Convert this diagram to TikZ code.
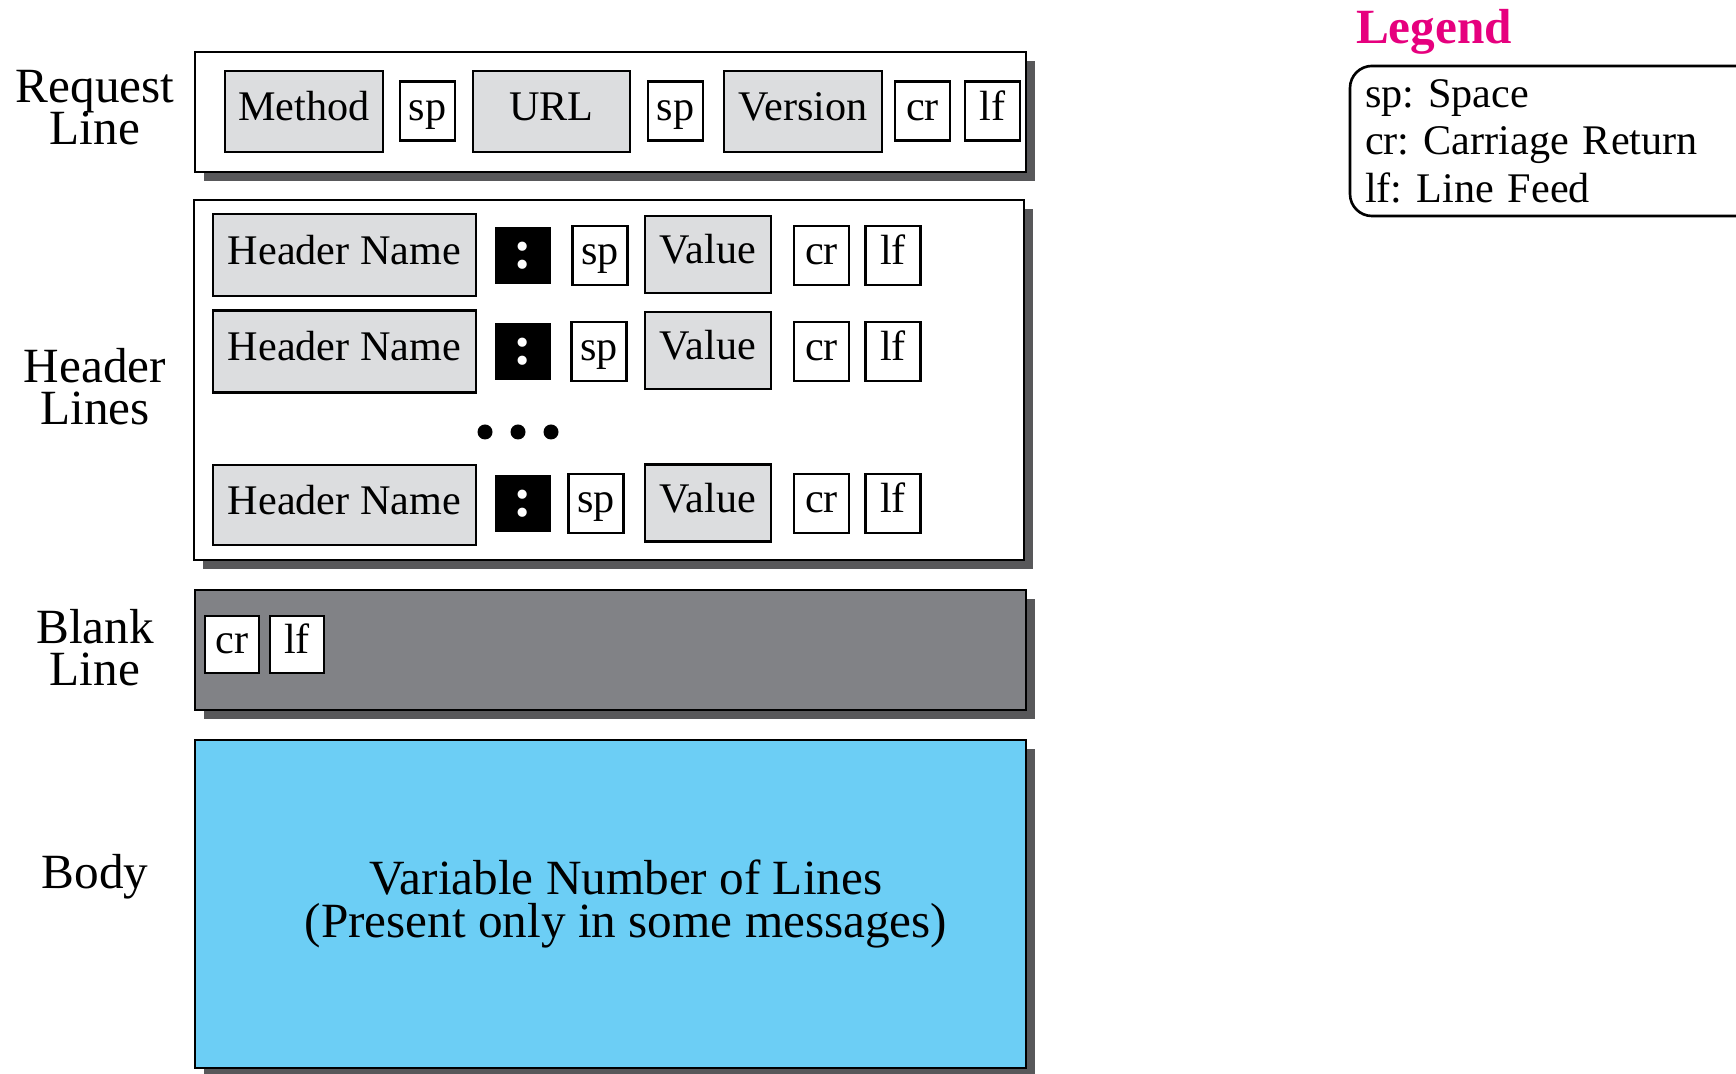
\documentclass[tikz,border=0pt]{standalone}
\usepackage{fontspec}
\setmainfont{Liberation Serif}
\usepackage{tikz}
\usetikzlibrary{shadows}
\definecolor{fieldgray}{RGB}{220,221,223}
\definecolor{blankgray}{RGB}{129,130,134}
\definecolor{shadowgray}{RGB}{88,88,90}
\definecolor{bodyblue}{RGB}{108,206,245}
\definecolor{legendpink}{RGB}{230,0,126}
\newcommand\tightlines{\lineskiplimit=-20pt\relax}
\frenchspacing

\begin{document}
\begin{tikzpicture}[x=0.01cm, y=-0.01cm,
	every node/.style={inner sep=0pt, outer sep=0pt, font=\fontsize{12}{12}\selectfont},
	part/.style={draw, line width=0.6pt, drop shadow={shadow xshift=0.09cm, shadow yshift=-0.09cm, fill=shadowgray, opacity=1}},
	field/.style={draw, line width=0.75pt, fill=fieldgray, minimum height=0.81cm, text height=0.72em, text depth=0.2em},
	ctl/.style={draw, line width=0.75pt, fill=white, minimum width=0.55cm, minimum height=0.59cm, text height=0.72em, text depth=0.2em},
	colon/.style={fill=black, text=white, minimum width=0.56cm, minimum height=0.57cm, font=\fontsize{16}{16}\selectfont\bfseries},
	lbl/.style={align=center, font=\fontsize{14}{11.9}\selectfont\tightlines},
	dot/.style={circle, fill=black, minimum size=0.15cm}]
		
		\useasboundingbox (0,0) rectangle (1736,1074);
		\clip (0,0) rectangle (1736,1074);
		
		% request line
		\node at (610.5,112) [part, fill=white, minimum width=8.31cm, minimum height=1.2cm] (reqline) {};
		\node at (304,111.5) [field, minimum width=1.58cm] (method) {Method};
		\node at (427.5,111) [ctl] (rsp1) {sp};
		\node at (551.5,111.5) [field, minimum width=1.57cm] (url) {URL};
		\node at (675.5,111) [ctl] (rsp2) {sp};
		\node at (803,111.5) [field, minimum width=1.58cm] (version) {Version};
		\node at (922.5,111) [ctl] (rcr) {cr};
		\node at (992.5,111) [ctl] (rlf) {lf};
		
		% header lines
		\node at (609,380) [part, fill=white, minimum width=8.3cm, minimum height=3.6cm] (hdrlines) {};
		
		\node at (344.5,255) [field, minimum width=2.63cm, minimum height=0.82cm] (hname1) {Header Name};
		\node at (523,255.5) [colon] (hcol1) {:};
		\node at (600,255.5) [ctl] (hsp1) {sp};
		\node at (708,254.5) [field, minimum width=1.26cm, minimum height=0.77cm] (hval1) {Value};
		\node at (821.5,255.5) [ctl] (hcr1) {cr};
		\node at (893,255.5) [ctl] (hlf1) {lf};
		
		\node at (344.5,351.5) [field, minimum width=2.63cm, minimum height=0.82cm] (hname2) {Header Name};
		\node at (523,351.5) [colon] (hcol2) {:};
		\node at (599,351.5) [ctl] (hsp2) {sp};
		\node at (708,350.5) [field, minimum width=1.26cm, minimum height=0.77cm] (hval2) {Value};
		\node at (821.5,351.5) [ctl] (hcr2) {cr};
		\node at (893,351.5) [ctl] (hlf2) {lf};
		
		\node at (485,432) [dot] (dot1) {};
		\node at (518,432) [dot] (dot2) {};
		\node at (551,432) [dot] (dot3) {};
		
		\node at (344.5,505) [field, minimum width=2.63cm, minimum height=0.8cm] (hname3) {Header Name};
		\node at (523,503.5) [colon] (hcol3) {:};
		\node at (596,503.5) [ctl] (hsp3) {sp};
		\node at (708,503) [field, minimum width=1.26cm, minimum height=0.77cm] (hval3) {Value};
		\node at (821.5,503.5) [ctl] (hcr3) {cr};
		\node at (893,503.5) [ctl] (hlf3) {lf};
		
		% blank line
		\node at (610.5,650) [part, fill=blankgray, minimum width=8.31cm, minimum height=1.2cm] (blank) {};
		\node at (232,644.5) [ctl, minimum width=0.54cm, minimum height=0.57cm] (bcr) {cr};
		\node at (297,644.5) [ctl, minimum width=0.54cm, minimum height=0.57cm] (blf) {lf};
		
		% body
		\node at (610.5,904) [part, fill=bodyblue, minimum width=8.31cm, minimum height=3.28cm] (body) {};
		\node at (626,904) [align=center, font=\fontsize{14}{12}\selectfont\tightlines] (bodytxt) {Variable Number of Lines\\(Present only in some messages)};
		
		% labels on the left
		\node at (95,108) [lbl] (reqlbl) {Request\\Line};
		\node at (95,387) [lbl] (hdrlbl) {Header\\Lines};
		\node at (95,648) [lbl] (blanklbl) {Blank\\Line};
		\node at (95,877) [lbl] (bodylbl) {Body};
		
		% legend, cut off at the right edge
		\node at (1434,32) [font=\fontsize{14}{14}\selectfont\bfseries, text=legendpink] (legtitle) {Legend};
		\node at (1350,141) [anchor=west, draw, line width=0.75pt, rounded corners=0.22cm, minimum height=1.5cm, text width=3.9cm, inner xsep=0.15cm, align=left, font=\fontsize{12}{13.5}\selectfont] (legbox) {sp: Space\\cr: Carriage Return\\lf: Line Feed};
		
\end{tikzpicture}
\end{document}
